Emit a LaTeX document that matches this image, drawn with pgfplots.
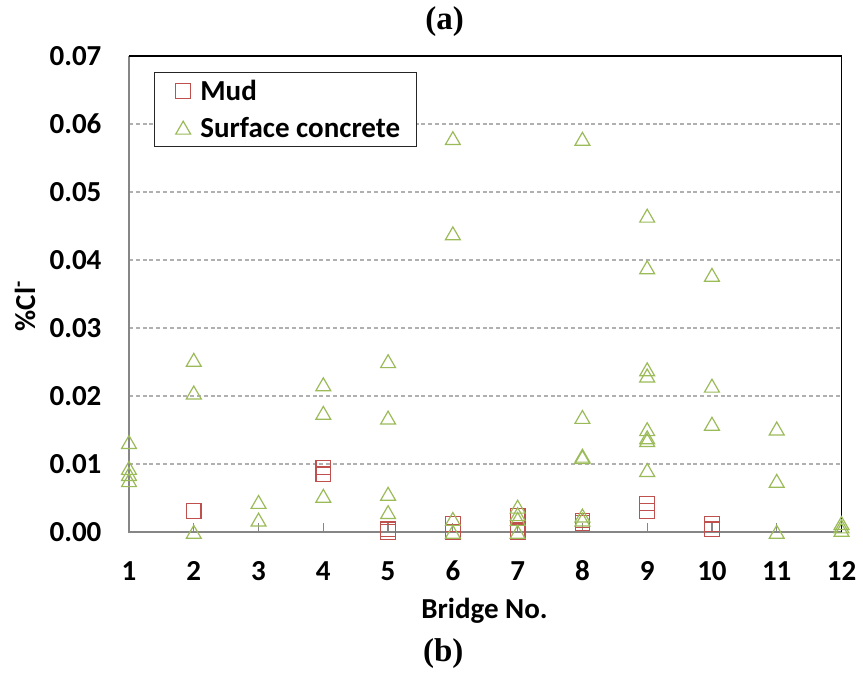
\documentclass[border=0pt]{standalone}
\usepackage{pgfplots}
\pgfplotsset{compat=1.18}
\usepackage{fontspec}
\setmainfont{Carlito}
\newfontfamily\timesfont{Liberation Serif}
\definecolor{mudred}{HTML}{C0504D}
\definecolor{concgreen}{HTML}{9BBB59}
\definecolor{axisgray}{HTML}{868686}
\definecolor{gridgray}{HTML}{B0B0B0}
\newcommand{\lblfont}{\bfseries\fontsize{14.5}{17}\selectfont}
\begin{document}
\begin{tikzpicture}
\path[use as bounding box] (0,0) rectangle (431.5pt,338.5pt);
\begin{axis}[
  at={(64.5pt,72.5pt)}, anchor=south west,
  scale only axis, width=356.25pt, height=238pt,
  xmin=1, xmax=12, ymin=0, ymax=0.07,
  clip=false,
  xtick={1,2,3,4,5,6,7,8,9,10,11,12},
  ytick={0,0.01,0.02,0.03,0.04,0.05,0.06,0.07},
  scaled y ticks=false,
  /pgf/number format/assume math mode=true,
  yticklabel style={/pgf/number format/fixed, /pgf/number format/fixed zerofill, /pgf/number format/precision=2},
  ticklabel style={font=\lblfont},
  yticklabel style={anchor=east, inner sep=0pt, xshift=-13.6pt},
  xticklabel style={anchor=center, inner sep=0pt, yshift=-19.35pt},
  tick pos=left, tick align=inside, major tick length=4.5pt,
  xtick style={draw=axisgray, line width=0.6pt},
  ytick style={draw=none},
  ymajorgrids,
  grid style={draw=gridgray, line width=0.6pt, dash pattern=on 2pt off 1.4pt},
  axis line style={draw=none},
  xlabel={Bridge No.},
  xlabel style={at={(axis description cs:0.499,-0.166)}, anchor=center, font=\lblfont},
  ylabel={\%Cl\textsuperscript{-}},
  ylabel style={at={(axis description cs:-0.146,0.475)}, anchor=center, font=\lblfont},
  legend style={at={(axis description cs:0.0355,0.967)}, anchor=north west, draw=black!85, line width=0.6pt,
    inner xsep=8pt, inner ysep=0pt, font=\lblfont, column sep=4.85pt, row sep=0pt,
    nodes={inner sep=0pt, text height=13.85pt, text depth=4.65pt}},
  legend cell align=left,
  legend image code/.code={\path (0pt,0pt); \draw[#1] plot coordinates {(5.85pt,0pt)};},
]
\addplot[only marks, mark=square, mark size=3.65pt, mark options={draw=mudred, line width=0.6pt, fill=none}]
coordinates {
(2,0.0031) (4,0.0095) (4,0.0085) (5,0.0004) (5,0.0000)
(6,0.0012) (6,0.0000) (7,0.0024) (7,0.0000) (8,0.0017) (8,0.0013)
(9,0.0042) (9,0.0031) (10,0.0012) (10,0.0004)
};
\addlegendentry{Mud}
\addplot[only marks, mark=triangle, mark size=4.3pt, mark options={draw=concgreen, line width=0.6pt, fill=none, yshift=-1pt}]
coordinates {
(1,0.0132) (1,0.0094) (1,0.0085) (1,0.0076)
(2,0.0253) (2,0.0205) (2,0.0000)
(3,0.0044) (3,0.0018)
(4,0.0217) (4,0.0175) (4,0.0053)
(5,0.0251) (5,0.0168) (5,0.0056) (5,0.0029)
(6,0.0579) (6,0.0439) (6,0.0019) (6,0.0000)
(7,0.0037) (7,0.0026) (7,0.0019) (7,0.0000)
(8,0.0578) (8,0.0169) (8,0.0112) (8,0.0110) (8,0.0024) (8,0.0018)
(9,0.0465) (9,0.0389) (9,0.0239) (9,0.0230) (9,0.0151) (9,0.0139) (9,0.0135) (9,0.0091)
(10,0.0378) (10,0.0215) (10,0.0159)
(11,0.0152) (11,0.0075) (11,0.0000)
(12,0.0013) (12,0.0008) (12,0.0003)
};
\addlegendentry{Surface concrete}
\draw[axisgray, line width=0.6pt] (rel axis cs:0,1) -- (rel axis cs:0,0) -- (rel axis cs:1,0);
\draw[black, line width=0.7pt] (rel axis cs:0,1) -- (rel axis cs:1,1) -- (rel axis cs:1,0);
\node[font=\timesfont\bfseries\fontsize{16.5}{19}\selectfont, anchor=center] at (axis description cs:0.443,1.072) {(a)};
\node[font=\timesfont\bfseries\fontsize{16.5}{19}\selectfont, anchor=center] at (axis description cs:0.441,-0.255) {(b)};
\end{axis}
\end{tikzpicture}
\end{document}
